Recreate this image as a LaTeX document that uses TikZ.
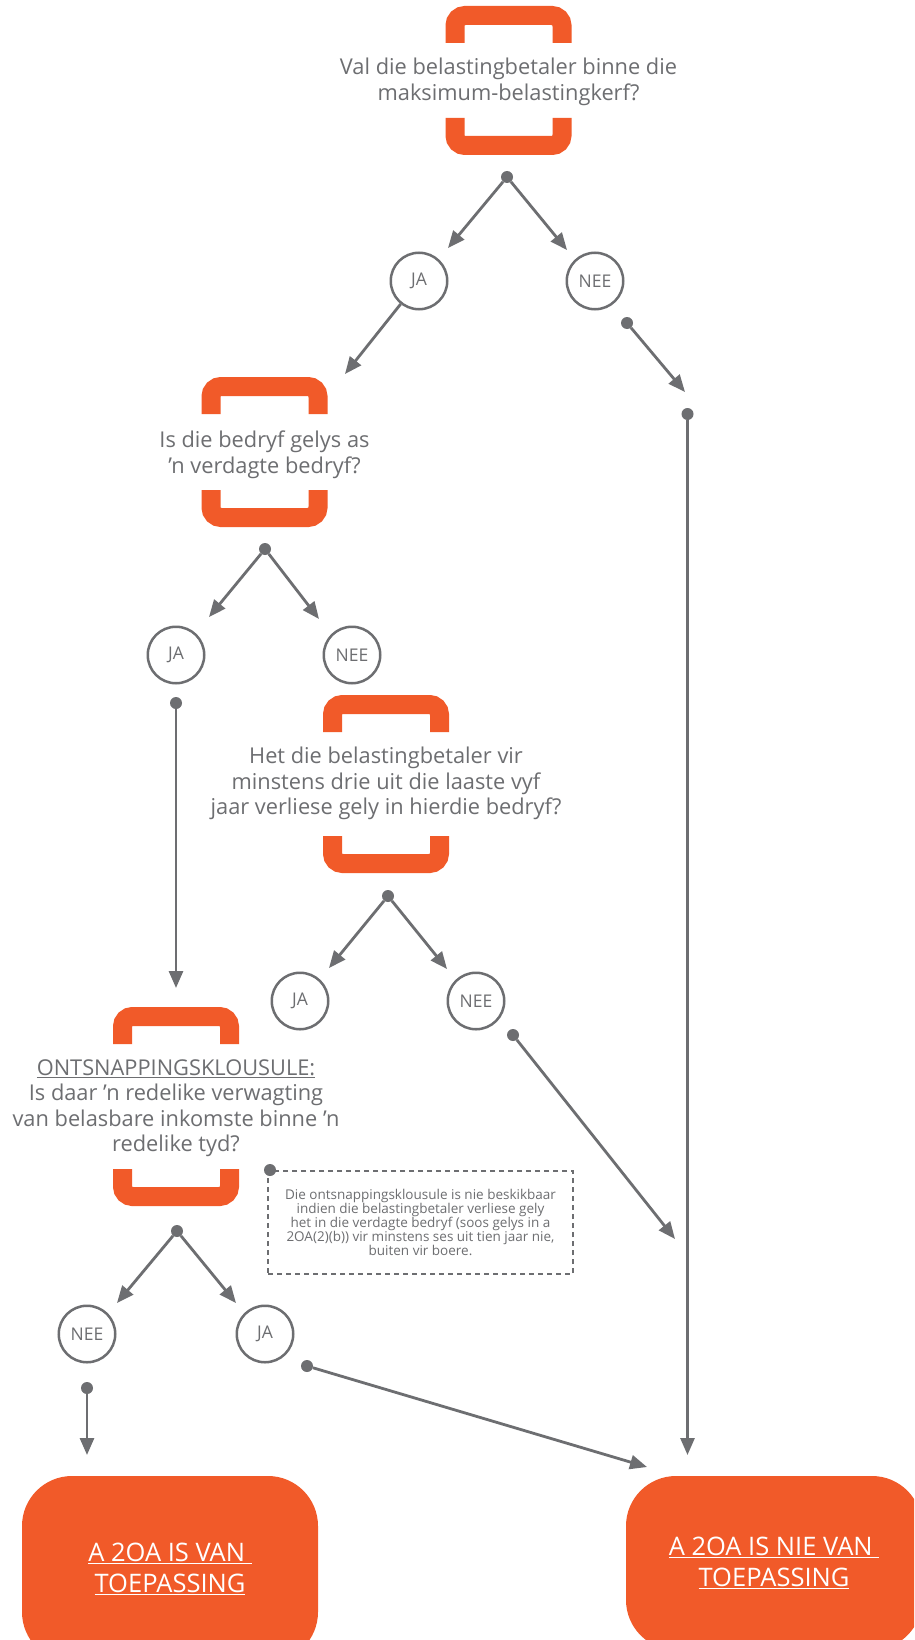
\documentclass[tikz,border=0pt]{standalone}
\usepackage{fontspec}
\setmainfont{Open Sans}
\usetikzlibrary{arrows.meta,calc}
\definecolor{orng}{RGB}{241,90,41}
\definecolor{gry}{RGB}{109,110,113}
\newcommand\qbr[3]{%
  \draw[brk] ({#1-53.5},{#2+37}) |- ({#1+53.5},{#2+9.5}) -- ({#1+53.5},{#2+37});
  \draw[brk] ({#1-53.5},{#3-37}) |- ({#1+53.5},{#3-9.5}) -- ({#1+53.5},{#3-37});}
\begin{document}
\begin{tikzpicture}[x=1pt,y=-1pt,
  brk/.style={draw=orng,line width=19pt,rounded corners=10pt},
  qtext/.style={text=gry,align=center,inner sep=0pt,font=\fontsize{21.8}{25.5}\selectfont},
  yn/.style={circle,draw=gry,line width=2.5pt,minimum size=56.5pt,inner sep=0pt,text=gry,font=\fontsize{17.5}{17.5}\selectfont},
  dot/.style={circle,fill=gry,minimum size=12pt,inner sep=0pt},
  arr/.style={draw=gry,line width=2.8pt,-{Triangle[length=17pt,width=14pt]}},
  note/.style={draw=gry,dashed,line width=1.1pt,dash pattern=on 5pt off 4pt,minimum width=305pt,minimum height=103pt,text=gry,align=center,inner sep=0pt,font=\fontsize{13.5}{13.8}\selectfont},
  endbox/.style={fill=orng,rounded corners=50pt,minimum width=296pt,text=white,align=center,inner sep=0pt,font=\fontsize{25.5}{31}\selectfont}
]
\useasboundingbox (0,0) rectangle (914,1640);
\clip (0,0) rectangle (914,1640);
\fill[white] (0,0) rectangle (914,1640);

% question boxes
\qbr{508.5}{6}{155}
\node[qtext] (q1) at (508.5,82) {Val die belastingbetaler binne die\\maksimum-belastingkerf?};
\qbr{264.5}{377}{527}
\node[qtext] (q2) at (264.5,455) {Is die bedryf gelys as\\’n verdagte bedryf?};
\qbr{386}{695}{873}
\node[qtext] (q3) at (386,783.5) {Het die belastingbetaler vir\\minstens drie uit die laaste vyf\\jaar verliese gely in hierdie bedryf?};
\qbr{176}{1007}{1206}
\node[qtext] (q4) at (176,1108) {\underline{ONTSNAPPINGSKLOUSULE:}\\Is daar ’n redelike verwagting\\van belasbare inkomste binne ’n\\redelike tyd?};

% level 1
\node[dot] (d1) at (507,177) {};
\node[yn] (ja1) at (419,281) {JA};
\node[yn] (nee1) at (595,281) {NEE};
\coordinate (t1a) at (448,248);
\coordinate (t1b) at (567,250);
\draw[arr] (d1) -- (t1a);
\draw[arr] (d1) -- (t1b);
\coordinate (t2in) at (345,374);
\draw[arr] (ja1) -- (t2in);
\node[dot] (n1d) at (627,323) {};
\coordinate (t1c) at (685,392);
\draw[arr] (n1d) -- (t1c);
\node[dot] (vd) at (687.5,414) {};
\coordinate (tR1) at (687.5,1455);
\draw[arr] (vd) -- (tR1);

% level 2
\node[dot] (d2) at (265,549) {};
\node[yn] (ja2) at (176,655) {JA};
\node[yn] (nee2) at (352,655) {NEE};
\coordinate (t2a) at (209,617);
\coordinate (t2b) at (319,619);
\draw[arr] (d2) -- (t2a);
\draw[arr] (d2) -- (t2b);
\node[dot] (j2d) at (176,703) {};
\coordinate (t4in) at (176,988);
\draw[arr] (j2d) -- (t4in);

% level 3
\node[dot] (d3) at (388,896) {};
\node[yn] (ja3) at (300,1001) {JA};
\node[yn] (nee3) at (476,1001) {NEE};
\coordinate (t3a) at (329,968);
\coordinate (t3b) at (447,969);
\draw[arr] (d3) -- (t3a);
\draw[arr] (d3) -- (t3b);
\node[dot] (n3d) at (513,1035) {};
\coordinate (tR2) at (675,1239);
\draw[arr] (n3d) -- (tR2);

% note
\node[note] (nt) at (420.5,1222.5) {Die ontsnappingsklousule is nie beskikbaar\\indien die belastingbetaler verliese gely\\het in die verdagte bedryf (soos gelys in a\\2OA(2)(b)) vir minstens ses uit tien jaar nie,\\buiten vir boere.};
\node[dot] (ntd) at (270,1170) {};

% level 4
\node[dot] (d4) at (177,1231) {};
\node[yn] (nee4) at (87,1334) {NEE};
\node[yn] (ja4) at (265,1334) {JA};
\coordinate (t4a) at (117,1303);
\coordinate (t4b) at (236,1303);
\draw[arr] (d4) -- (t4a);
\draw[arr] (d4) -- (t4b);
\node[dot] (n4d) at (87,1388) {};
\coordinate (tL) at (87,1455);
\draw[arr] (n4d) -- (tL);
\node[dot] (j4d) at (307,1366) {};
\coordinate (tR3) at (647,1467);
\draw[arr] (j4d) -- (tR3);

% end boxes
\node[endbox,minimum height=186pt] (e1) at (170,1569) {\underline{A 2OA IS VAN\ }\\\underline{TOEPASSING}};
\node[endbox,minimum height=174pt] (e2) at (774,1563) {\underline{A 2OA IS NIE VAN\ }\\\underline{TOEPASSING}};
\end{tikzpicture}
\end{document}
